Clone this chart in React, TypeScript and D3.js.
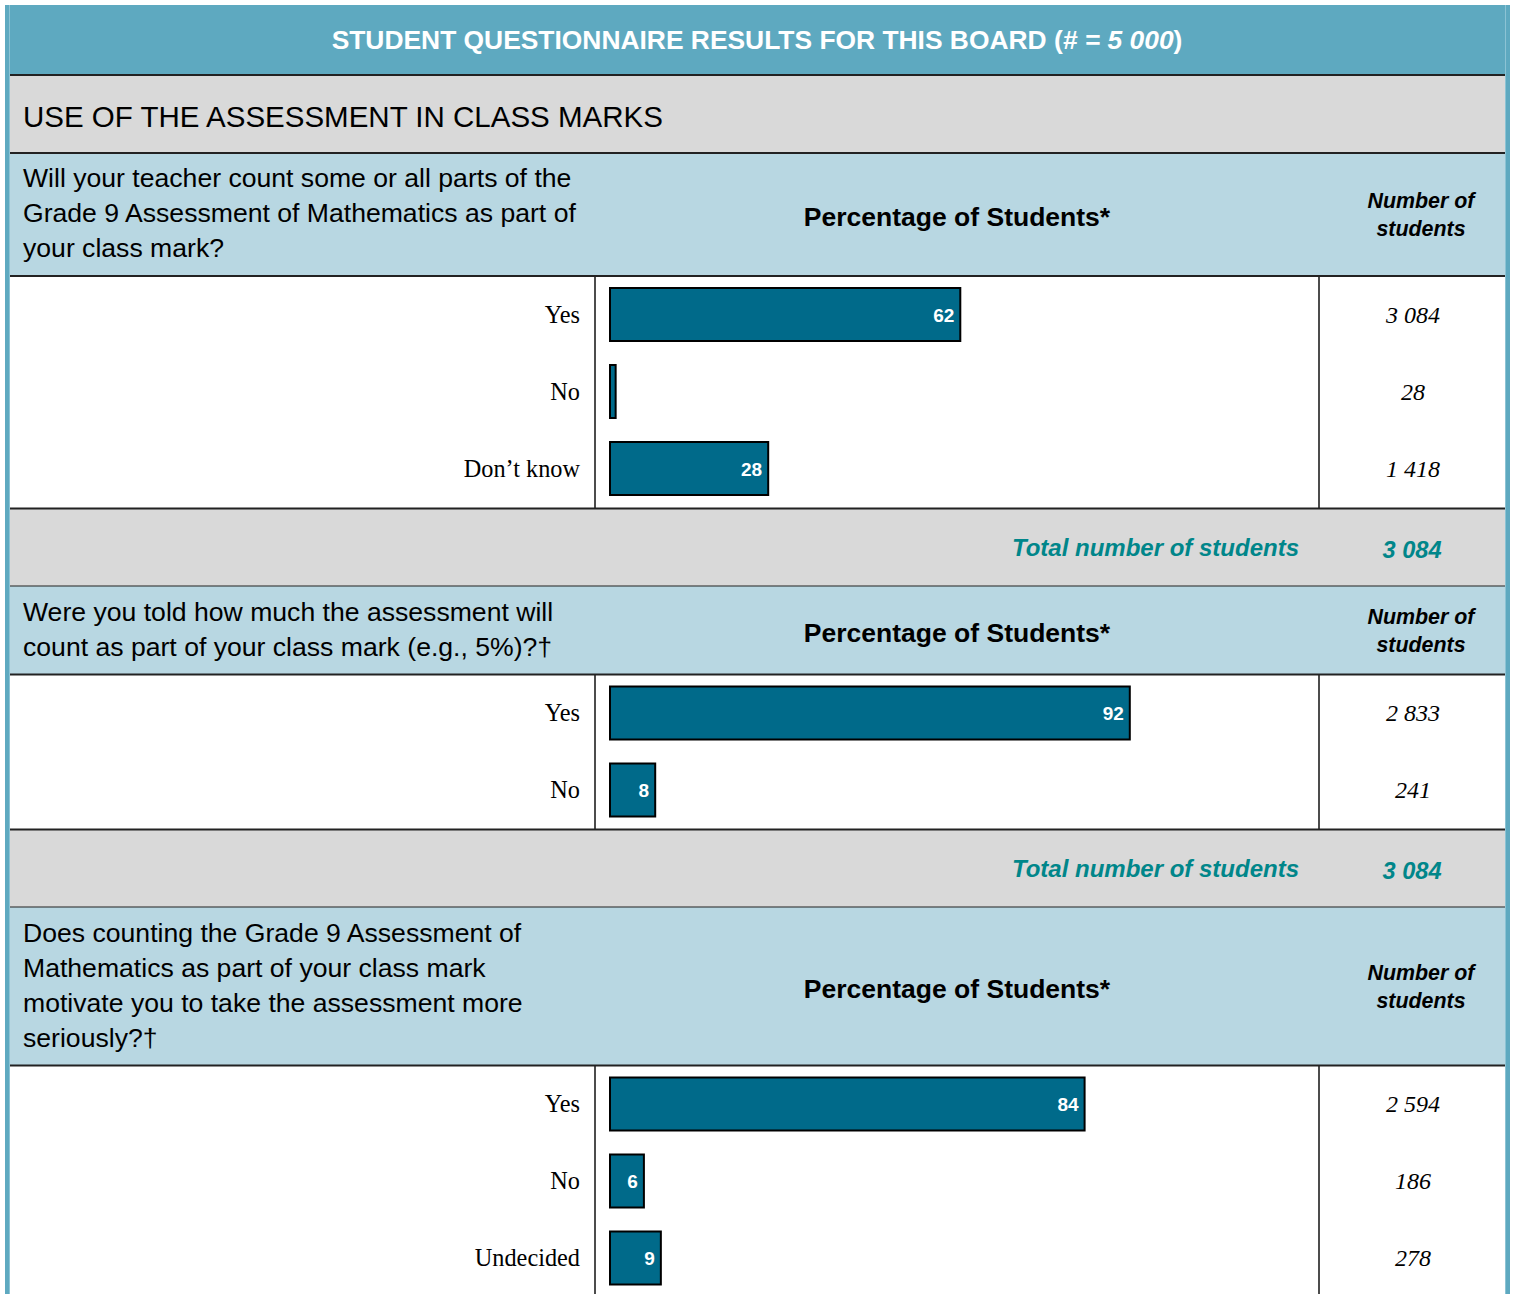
import React from "react";
import * as d3 from "d3";

const titleText = "STUDENT QUESTIONNAIRE RESULTS FOR THIS BOARD (";
const titleItalic = "# = 5 000";
const sectionTitle = "USE OF THE ASSESSMENT IN CLASS MARKS";

const q1Lines = [
  "Will your teacher count some or all parts of the",
  "Grade 9 Assessment of Mathematics as part of",
  "your class mark?",
];
const q1Categories = ["Yes", "No", "Don\u2019t know"];
const q1Percent = [62, 1, 28];
const q1Counts = ["3 084", "28", "1 418"];
const q1Total = "3 084";

const q2Lines = [
  "Were you told how much the assessment will",
  "count as part of your class mark (e.g., 5%)?\u2020",
];
const q2Categories = ["Yes", "No"];
const q2Percent = [92, 8];
const q2Counts = ["2 833", "241"];
const q2Total = "3 084";

const q3Lines = [
  "Does counting the Grade 9 Assessment of",
  "Mathematics as part of your class mark",
  "motivate you to take the assessment more",
  "seriously?\u2020",
];
const q3Categories = ["Yes", "No", "Undecided"];
const q3Percent = [84, 6, 9];
const q3Counts = ["2 594", "186", "278"];
const q3Total: string | null = null;

const sections = [
  { lines: q1Lines, cats: q1Categories, pct: q1Percent, counts: q1Counts, total: q1Total },
  { lines: q2Lines, cats: q2Categories, pct: q2Percent, counts: q2Counts, total: q2Total },
  { lines: q3Lines, cats: q3Categories, pct: q3Percent, counts: q3Counts, total: q3Total },
];

const W = 1514;
const H = 1294;
const L = 9;
const R = 1506;
const TEAL = "#5ea9c0";
const HEADER_BLUE = "#b8d7e2";
const GRAY = "#d9d9d9";
const BAR = "#006a8a";
const TOTAL_COLOR = "#00868a";
const SANS = "'Liberation Sans', Arial, sans-serif";
const SERIF = "'Liberation Serif', 'Times New Roman', serif";

const xScale = d3.scaleLinear().domain([0, 100]).range([610, 1175]);

export default function App() {
  const elements: React.ReactNode[] = [];
  let y = 153;
  sections.forEach((s, si) => {
    const hTop = y;
    const hH = s.lines.length * 35 + 18;
    const hMid = hTop + hH / 2;
    elements.push(
      <g key={"h" + si}>
        <rect x={L} y={hTop} width={R - L} height={hH} fill={HEADER_BLUE} />
        {s.lines.map((ln, i) => (
          <text key={i} x={23} y={hTop + 34 + i * 35} fontFamily={SANS} fontSize={26.6} fill="#000">
            {ln}
          </text>
        ))}
        <text x={957} y={hMid + 11} textAnchor="middle" fontFamily={SANS} fontSize={26.5} fontWeight="bold" fill="#000">
          Percentage of Students*
        </text>
        <text x={1421} y={hMid - 7} textAnchor="middle" fontFamily={SANS} fontSize={21.4} fontWeight="bold" fontStyle="italic" fill="#000">
          Number of
        </text>
        <text x={1421} y={hMid + 21} textAnchor="middle" fontFamily={SANS} fontSize={21.4} fontWeight="bold" fontStyle="italic" fill="#000">
          students
        </text>
      </g>
    );
    y = hTop + hH;
    const bTop = y;
    const n = s.cats.length;
    const bH = n * 77.5;
    const yScale = d3
      .scaleBand<string>()
      .domain(s.cats)
      .range([bTop, bTop + n * 77])
      .paddingInner(24 / 77)
      .paddingOuter(12 / 77);
    const bw = yScale.bandwidth();
    const bodyBottom = Math.min(bTop + bH, H);
    elements.push(
      <g key={"b" + si}>
        <rect x={L} y={bTop} width={R - L} height={bodyBottom - bTop} fill="#fff" />
        <line x1={595} x2={595} y1={bTop} y2={bodyBottom} stroke="#111" strokeWidth={1.5} />
        <line x1={1319} x2={1319} y1={bTop} y2={bodyBottom} stroke="#111" strokeWidth={1.5} />
        {s.cats.map((c, i) => {
          const by = yScale(c)!;
          const cy = by + bw / 2;
          const x1 = xScale(s.pct[i]);
          return (
            <g key={c}>
              <text x={580} y={cy + 8} textAnchor="end" fontFamily={SERIF} fontSize={24.3} fill="#000">
                {c}
              </text>
              <rect x={xScale(0)} y={by} width={x1 - xScale(0)} height={bw} fill={BAR} stroke="#000" strokeWidth={2} />
              {s.pct[i] >= 3 && (
                <text x={x1 - 6} y={cy + 7} textAnchor="end" fontFamily={SANS} fontSize={19} fontWeight="bold" fill="#fff">
                  {s.pct[i]}
                </text>
              )}
              <text x={1413} y={cy + 8} textAnchor="middle" fontFamily={SERIF} fontSize={24} fontStyle="italic" fill="#000">
                {s.counts[i]}
              </text>
            </g>
          );
        })}
      </g>
    );
    elements.push(<line key={"lh" + si} x1={L} x2={R} y1={bTop} y2={bTop} stroke="#222" strokeWidth={2} />);
    y = bTop + bH;
    if (s.total) {
      const tTop = y;
      const tH = 78;
      elements.push(
        <g key={"t" + si}>
          <rect x={L} y={tTop} width={R - L} height={tH} fill={GRAY} />
          <text x={1299} y={tTop + 47} textAnchor="end" fontFamily={SANS} fontSize={24} fontWeight="bold" fontStyle="italic" fill={TOTAL_COLOR}>
            Total number of students
          </text>
          <text x={1412} y={tTop + 49} textAnchor="middle" fontFamily={SANS} fontSize={23.6} fontWeight="bold" fontStyle="italic" fill={TOTAL_COLOR}>
            {s.total}
          </text>
          <line x1={L} x2={R} y1={tTop} y2={tTop} stroke="#222" strokeWidth={2} />
          <line x1={L} x2={R} y1={tTop + tH} y2={tTop + tH} stroke="#222" strokeWidth={2} />
        </g>
      );
      y = tTop + tH;
    }
  });

  return (
    <svg width={W} height={H} style={{ position: "absolute", left: 0, top: 0, display: "block" }}>
      <rect x={0} y={0} width={W} height={H} fill="#fff" />
      <rect x={5} y={5} width={1505} height={70} fill={TEAL} />
      <text x={757} y={49} textAnchor="middle" fontFamily={SANS} fontSize={26.4} fontWeight="bold" fill="#fff">
        {titleText}
        <tspan fontStyle="italic">{titleItalic}</tspan>
        {")"}
      </text>
      <rect x={L} y={75} width={R - L} height={78} fill={GRAY} />
      <text x={23} y={127} fontFamily={SANS} fontSize={29.5} fill="#000">
        {sectionTitle}
      </text>
      {elements}
      <line x1={L} x2={R} y1={75} y2={75} stroke="#222" strokeWidth={2} />
      <line x1={L} x2={R} y1={153} y2={153} stroke="#222" strokeWidth={2} />
      <rect x={5} y={5} width={4} height={H - 5} fill={TEAL} />
      <rect x={9} y={5} width={1} height={H - 5} fill="#8cc3d4" />
      <rect x={1506} y={5} width={4} height={H - 5} fill={TEAL} />
      <rect x={1505} y={5} width={1} height={H - 5} fill="#8cc3d4" />
    </svg>
  );
}
